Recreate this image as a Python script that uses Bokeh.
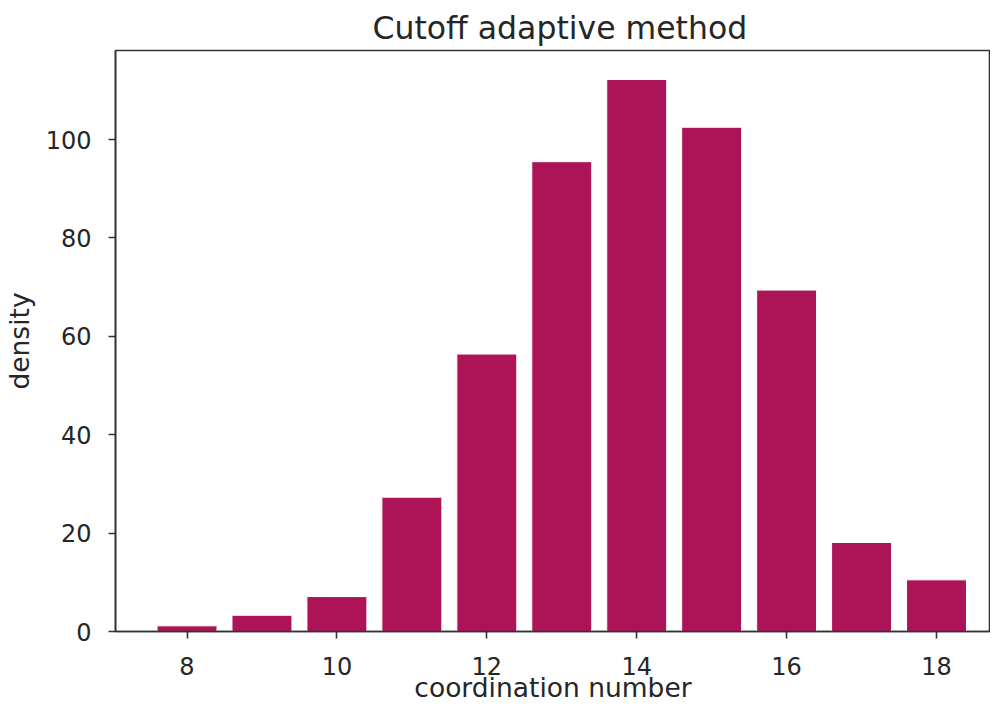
from bokeh.plotting import figure
from bokeh.models import FixedTicker, Range1d, ColumnDataSource
from bokeh.embed import file_html
from bokeh.resources import INLINE

# data
coordination = [8, 9, 10, 11, 12, 13, 14, 15, 16, 17, 18]
density = [1.15, 3.3, 7.1, 27.3, 56.4, 95.5, 112.2, 102.5, 69.4, 18.1, 10.5]
x_ticks = [8, 10, 12, 14, 16, 18]
y_ticks = [0, 20, 40, 60, 80, 100]

FONT = "DejaVu Sans"
TEXT = "#262626"
SPINE = "#333333"

src = ColumnDataSource(dict(x=coordination, top=density))

p = figure(width=990, height=705, output_backend="svg", toolbar_location=None,
           x_range=Range1d(7.046, 18.72), y_range=Range1d(0, 118.1),
           min_border_left=115, min_border_right=0, min_border_top=50, min_border_bottom=73,
           title="Cutoff adaptive method")

p.vbar(x="x", top="top", width=0.8, source=src, fill_color="#AD1457",
       line_color="white", line_width=1)

p.title.text_font = FONT
p.title.text_font_size = "31.5px"
p.title.text_font_style = "normal"
p.title.text_color = TEXT
p.title.align = "left"
p.title.offset = 257
p.title.standoff = 9

p.xgrid.visible = False
p.ygrid.visible = False
p.outline_line_color = SPINE
p.outline_line_width = 1.6
p.background_fill_color = "white"
p.border_fill_color = "white"

p.xaxis.ticker = FixedTicker(ticks=x_ticks)
p.yaxis.ticker = FixedTicker(ticks=y_ticks)
p.xaxis.axis_label = "coordination number"
p.yaxis.axis_label = "density"

for ax in (p.xaxis[0], p.yaxis[0]):
    ax.axis_line_color = SPINE
    ax.axis_line_width = 1.6
    ax.major_tick_line_color = SPINE
    ax.major_tick_line_width = 1.6
    ax.major_tick_out = 7
    ax.major_tick_in = 0
    ax.minor_tick_line_color = None
    ax.major_label_text_font = FONT
    ax.major_label_text_font_size = "24px"
    ax.major_label_text_color = TEXT
    ax.axis_label_text_font = FONT
    ax.axis_label_text_font_size = "26.5px"
    ax.axis_label_text_font_style = "normal"
    ax.axis_label_text_color = TEXT

p.xaxis.major_label_standoff = 18
p.xaxis.axis_label_standoff = -6
p.yaxis.major_label_standoff = 17
p.yaxis.axis_label_standoff = 8

open("out.html", "w").write(file_html(p, INLINE))
